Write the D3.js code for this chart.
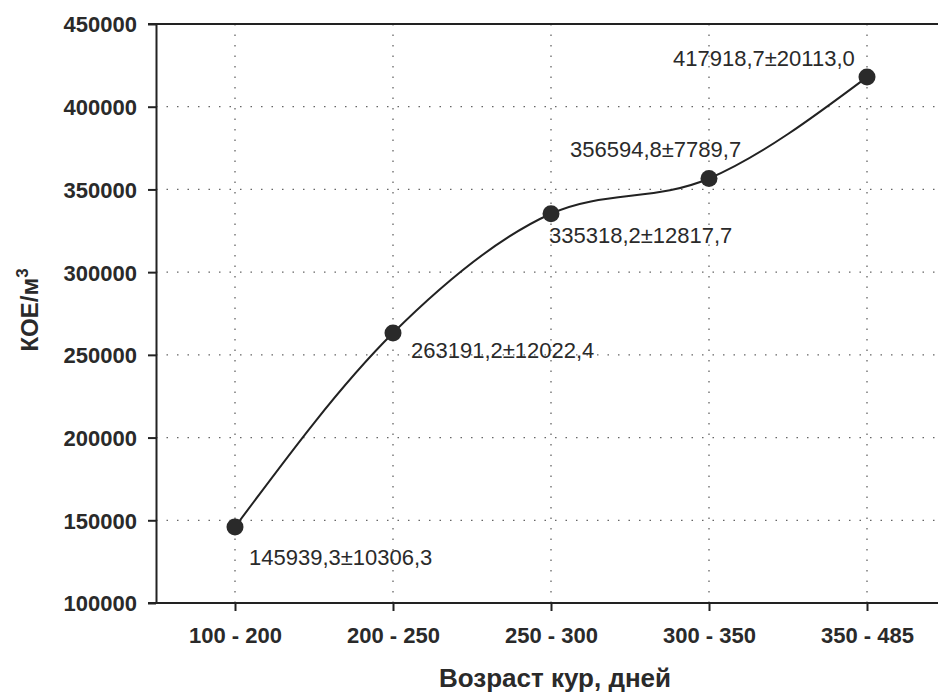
<!DOCTYPE html>
<html>
<head>
<meta charset="utf-8">
<script src="https://cdn.jsdelivr.net/npm/d3@7"></script>
<style>
  body { margin: 0; background: #fff; }
  svg { display: block; font-family: "Liberation Sans", Arial, sans-serif; }
  .grid line { stroke: #666; stroke-width: 1.3; stroke-dasharray: 1.5 9; }
  .axis path, .axis line { stroke: #222; stroke-width: 2; }
  .axis text { font-weight: bold; font-size: 22px; fill: #2a2a2a; }
</style>
</head>
<body>
<svg width="938" height="697"></svg>
<script>
const ages = ["100 - 200", "200 - 250", "250 - 300", "300 - 350", "350 - 485"];
const means = [145939.3, 263191.2, 335318.2, 356594.8, 417918.7];
const labels = ["145939,3±10306,3", "263191,2±12022,4", "335318,2±12817,7", "356594,8±7789,7", "417918,7±20113,0"];
const yTicks = [100000, 150000, 200000, 250000, 300000, 350000, 400000, 450000];
// label offsets relative to the point: [dx, dy]
const labelOffsets = [[14, 38], [18, 25], [-2, 29], [-139, -22], [-194, -11]];

const svg = d3.select("svg");
const plotLeft = 156, plotTop = 24, plotBottom = 603;

const x = d3.scalePoint().domain(ages).range([plotLeft, 946]).padding(0.5);
const y = d3.scaleLinear().domain([100000, 450000]).range([plotBottom, plotTop]);

// grid
const grid = svg.append("g").attr("class", "grid");
grid.selectAll(".h").data(yTicks.slice(1, -1)).enter().append("line")
  .attr("x1", plotLeft).attr("x2", 938)
  .attr("y1", d => y(d)).attr("y2", d => y(d));
grid.selectAll(".v").data(ages).enter().append("line")
  .attr("x1", d => x(d)).attr("x2", d => x(d))
  .attr("y1", plotTop).attr("y2", plotBottom);

// axes
svg.append("g").attr("class", "axis")
  .attr("transform", `translate(${plotLeft},0)`)
  .call(d3.axisLeft(y).tickValues(yTicks).tickFormat(d3.format("d")).tickSize(8).tickSizeOuter(0).tickPadding(11))
  .call(g => g.selectAll("text").attr("dy", "0.36em"));

svg.append("g").attr("class", "axis")
  .attr("transform", `translate(0,${plotBottom})`)
  .call(d3.axisBottom(x).tickSize(8).tickSizeOuter(0).tickPadding(16))
  .call(g => g.select(".domain").attr("d", `M148,0H938`));

// top frame line
svg.append("line")
  .attr("x1", 148).attr("x2", 938).attr("y1", plotTop).attr("y2", plotTop)
  .attr("stroke", "#222").attr("stroke-width", 2);

// curve
const pts = ages.map((a, i) => [x(a), y(means[i])]);
svg.append("path")
  .attr("d", d3.line().curve(d3.curveMonotoneX)(pts))
  .attr("fill", "none").attr("stroke", "#222").attr("stroke-width", 2);

svg.selectAll(".pt").data(pts).enter().append("circle")
  .attr("cx", d => d[0]).attr("cy", d => d[1]).attr("r", 8.5)
  .attr("fill", "#2a2a2a");

svg.selectAll(".lbl").data(labels).enter().append("text")
  .attr("x", (d, i) => pts[i][0] + labelOffsets[i][0])
  .attr("y", (d, i) => pts[i][1] + labelOffsets[i][1])
  .attr("font-size", 22).attr("fill", "#2a2a2a")
  .text(d => d);

// axis titles
svg.append("text")
  .attr("x", 555).attr("y", 687).attr("text-anchor", "middle")
  .attr("font-size", 26).attr("font-weight", "bold").attr("fill", "#2a2a2a")
  .text("Возраст кур, дней");

const yt = svg.append("text")
  .attr("transform", "translate(38,310) rotate(-90)")
  .attr("text-anchor", "middle")
  .attr("font-size", 24).attr("font-weight", "bold").attr("fill", "#2a2a2a");
yt.append("tspan").text("КОЕ/м");
yt.append("tspan").attr("font-size", 17).attr("dy", -10).text("3");
</script>
</body>
</html>
